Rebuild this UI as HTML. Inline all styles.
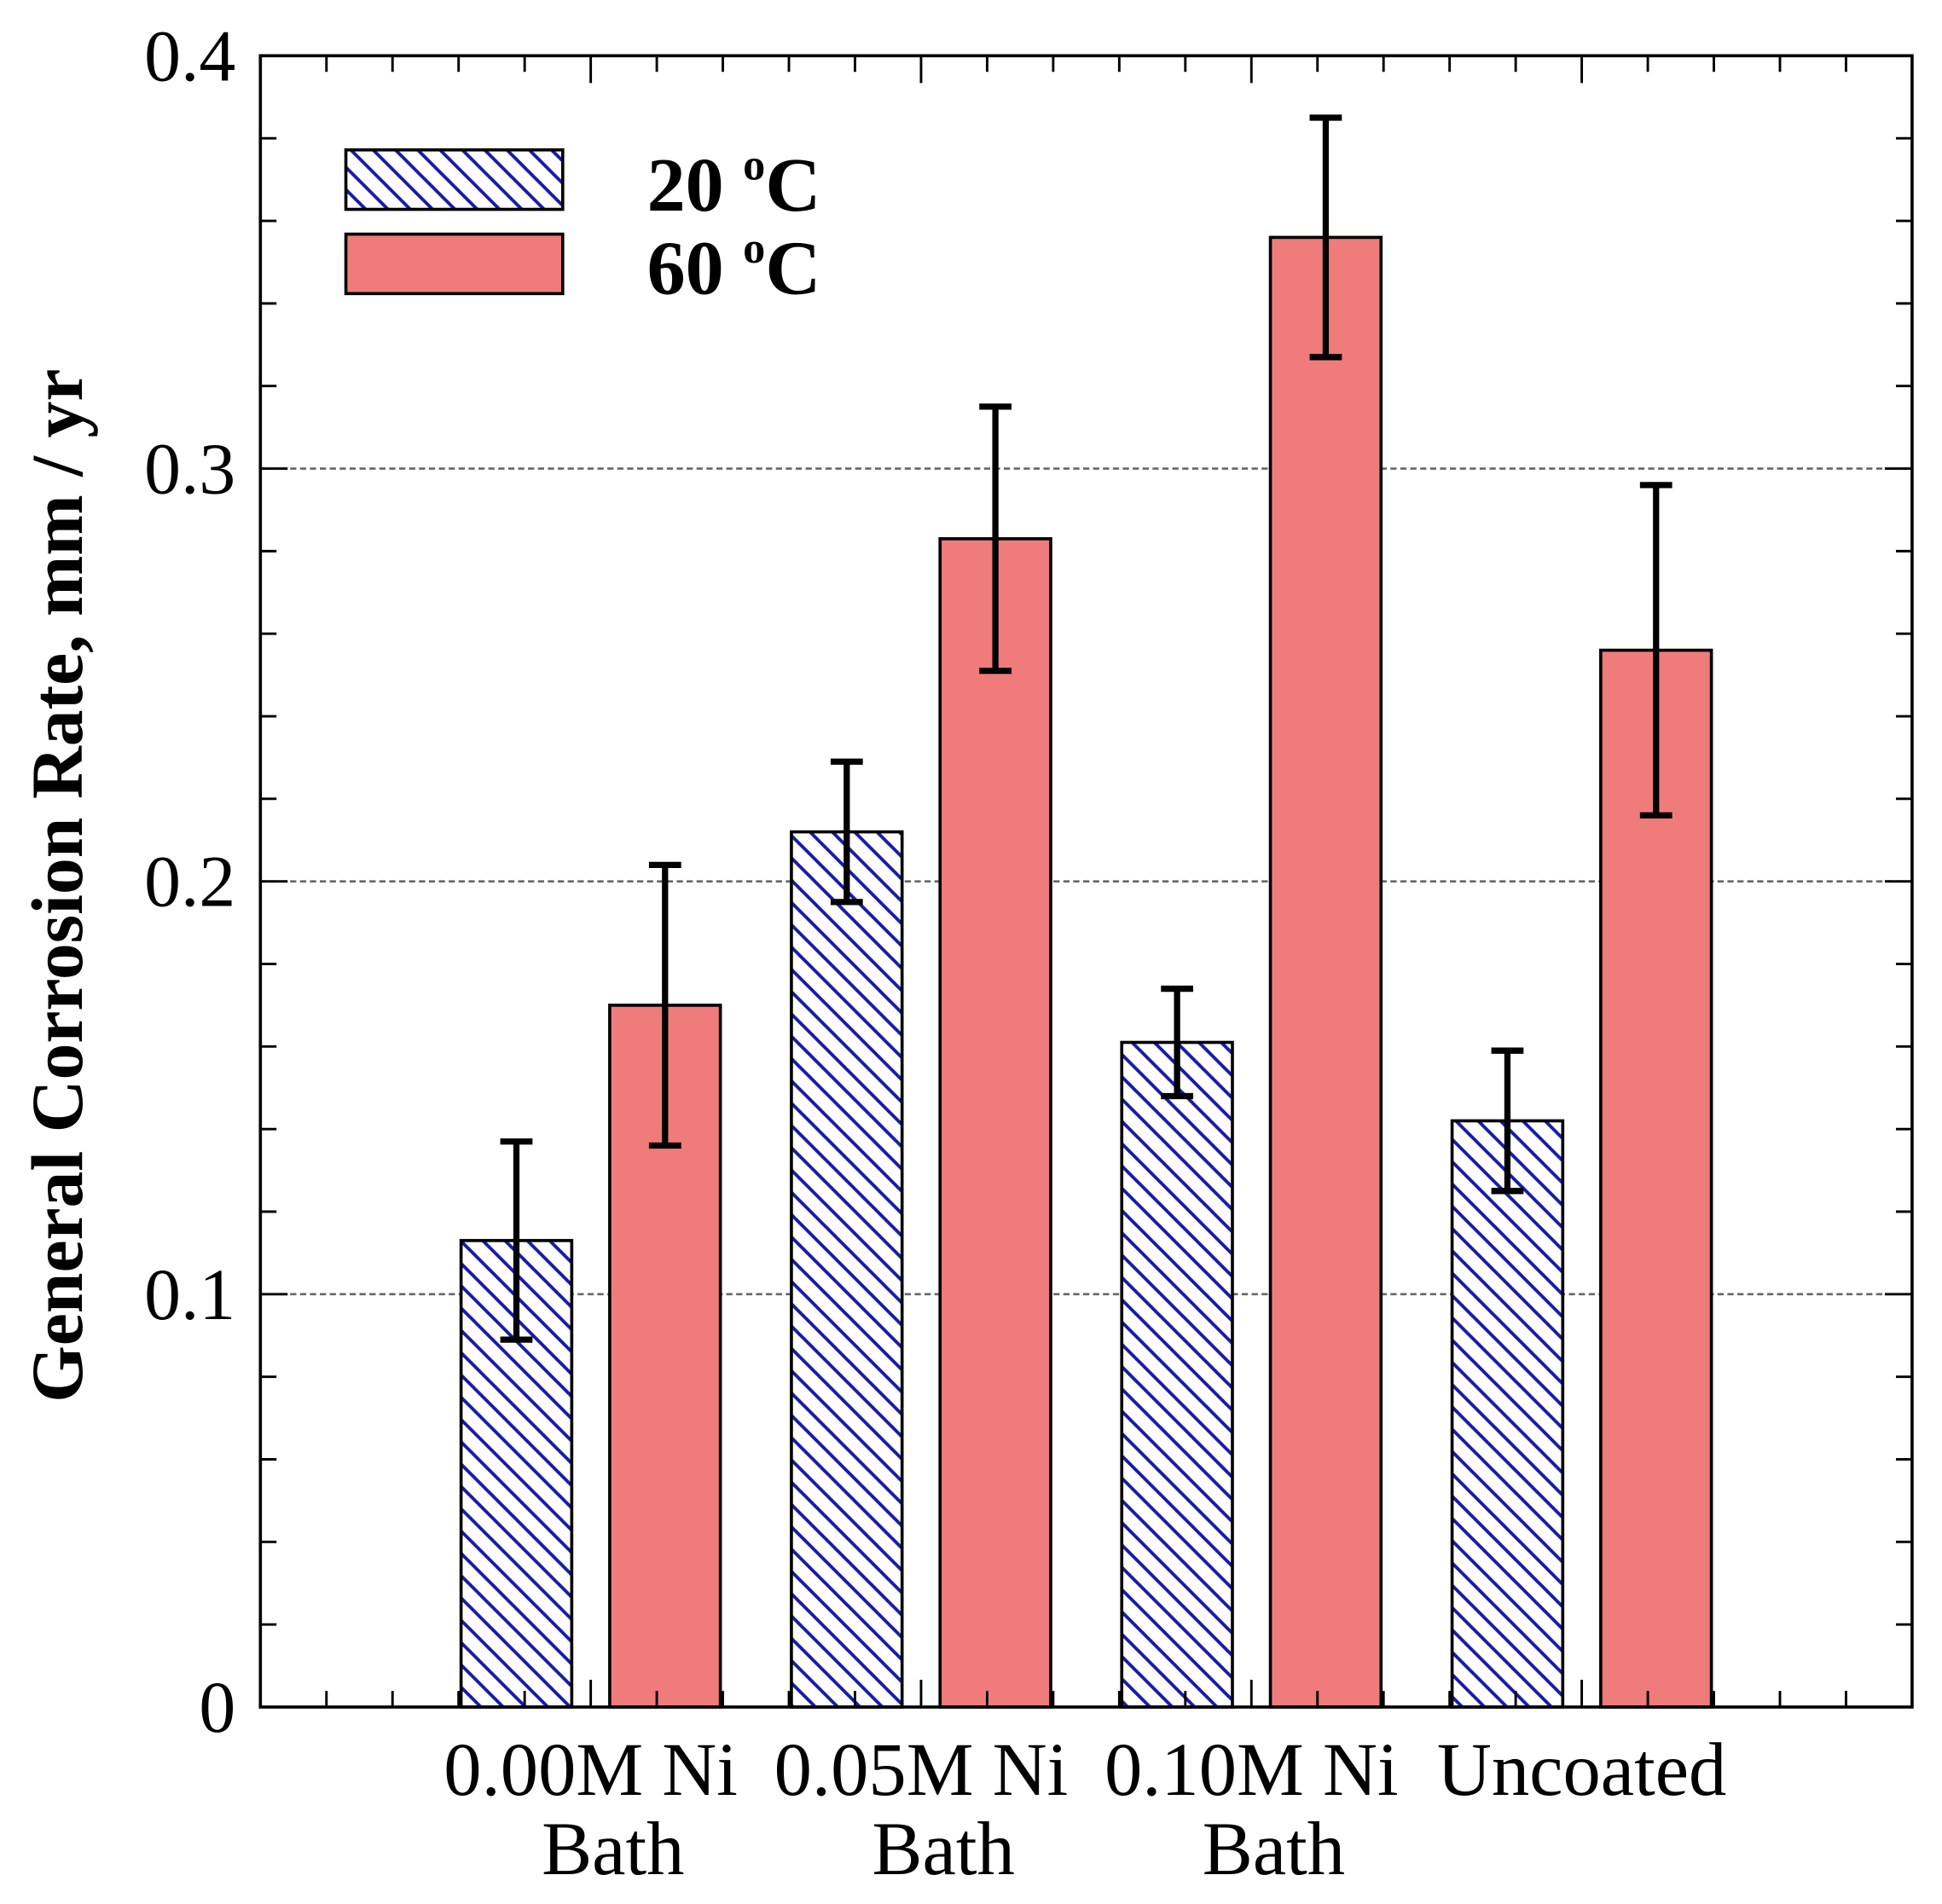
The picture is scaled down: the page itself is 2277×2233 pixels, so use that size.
<!DOCTYPE html>
<html><head><meta charset="utf-8"><style>html,body{margin:0;padding:0;background:#fff}svg{display:block}</style></head>
<body>
<svg width="2277" height="2233" viewBox="0 0 1567 1537" xmlns="http://www.w3.org/2000/svg" font-family="'Liberation Serif', serif">
<defs>
<pattern id="hatch" patternUnits="userSpaceOnUse" width="18" height="18">
<rect width="18" height="18" fill="#fff"/>
<path d="M-4.5,13.5 L4.5,22.5 M0,0 L18,18 M13.5,-4.5 L22.5,4.5" stroke="#1a1aa8" stroke-width="2.7"/>
</pattern>
</defs>
<g id="grid"></g>
<g id="bars"></g>
<g id="axes"></g>
<g>
<rect x="279" y="121" width="175" height="48" fill="url(#hatch)" stroke="#000" stroke-width="2.5"/>
<rect x="279" y="189" width="175" height="48" fill="#f07b7b" stroke="#000" stroke-width="2.5"/>
<text x="522" y="170" font-size="62" font-weight="bold">20 <tspan font-size="36" dy="-25">o</tspan><tspan dy="25">C</tspan></text>
<text x="522" y="237" font-size="62" font-weight="bold">60 <tspan font-size="36" dy="-25">o</tspan><tspan dy="25">C</tspan></text>
</g>
<text transform="translate(66,715) rotate(-90)" text-anchor="middle" font-size="59" font-weight="bold">General Corrosion Rate, mm / yr</text>
<script>
const categories = ["0.00M Ni|Bath", "0.05M Ni|Bath", "0.10M Ni|Bath", "Uncoated"];
const values20 = [0.113, 0.212, 0.161, 0.142];
const err20Hi = [0.137, 0.229, 0.174, 0.159];
const err20Lo = [0.089, 0.195, 0.148, 0.125];
const values60 = [0.170, 0.283, 0.356, 0.256];
const err60Hi = [0.204, 0.315, 0.385, 0.296];
const err60Lo = [0.136, 0.251, 0.327, 0.216];
const yTickLabels = ["0", "0.1", "0.2", "0.3", "0.4"];
const yTickValues = [0, 0.1, 0.2, 0.3, 0.4];

const NS = "http://www.w3.org/2000/svg";
const L = 210, R = 1543, T = 45, B = 1378;
const xs = v => L + (v / 5) * (R - L);
const ys = v => B - (v / 0.4) * (B - T);
function mk(tag, attrs, parent) {
  const e = document.createElementNS(NS, tag);
  for (const k in attrs) e.setAttribute(k, attrs[k]);
  parent.appendChild(e);
  return e;
}
const grid = document.getElementById('grid');
const bars = document.getElementById('bars');
const axes = document.getElementById('axes');
[0.1, 0.2, 0.3].forEach(v => {
  const g = mk('line', {x1: L, x2: R, y1: ys(v), y2: ys(v), stroke: '#666', 'stroke-width': 1.8, 'stroke-dasharray': '5,3'}, grid);
  
  
});
const bw = 0.335, off = 0.225;
function drawBar(cx, val, hi, lo, fill, name) {
  const r = mk('rect', {x: xs(cx - bw / 2), y: ys(val), width: xs(bw) - L, height: ys(0) - ys(val), fill: fill, stroke: '#000', 'stroke-width': 2.5}, bars);
  
  
  const x = xs(cx);
  const eb = mk('path', {d: `M${x},${ys(hi)}V${ys(lo)}M${x-13},${ys(hi)}H${x+13}M${x-13},${ys(lo)}H${x+13}`, stroke: '#000', 'stroke-width': 5, fill: 'none'}, bars);
  
  
}
categories.forEach((c, i) => {
  const gx = i + 1;
  drawBar(gx - off, values20[i], err20Hi[i], err20Lo[i], 'url(#hatch)', 'bar-20c-' + i);
  drawBar(gx + off, values60[i], err60Hi[i], err60Lo[i], '#f07b7b', 'bar-60c-' + i);
  const lines = c.split('|');
  lines.forEach((ln, j) => {
    const t = mk('text', {x: xs(gx) + (j === 1 ? 18 : 0), y: 1449 + j * 64, 'text-anchor': 'middle', 'font-size': 61}, axes);
    t.textContent = ln;
    
    
  });
});
const fr = mk('rect', {x: L, y: T, width: R - L, height: B - T, fill: 'none', stroke: '#000', 'stroke-width': 2.5}, axes);


for (let k = 1; k < 20; k++) {
  const v = k * 0.02, major = k % 5 === 0, len = major ? 22 : 13;
  const y = ys(v);
  mk('path', {d: `M${L},${y}h${len}M${R},${y}h${-len}`, stroke: '#000', 'stroke-width': 2}, axes);
}
for (let k = 1; k < 25; k++) {
  const x = xs(k * 0.2), len = (k % 5 === 0) ? 22 : 13;
  mk('path', {d: `M${x},${B}v${-len}M${x},${T}v${len}`, stroke: '#000', 'stroke-width': 2}, axes);
}
yTickLabels.forEach((lab, i) => {
  const t = mk('text', {x: 190, y: ys(yTickValues[i]) + 20, 'text-anchor': 'end', 'font-size': 59}, axes);
  t.textContent = lab;
  
  
});
</script>
</svg>
</body></html>
